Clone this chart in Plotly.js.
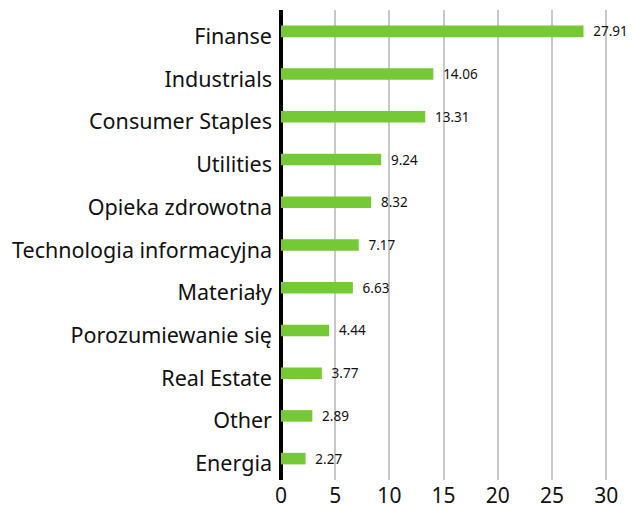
<!DOCTYPE html>
<html>
<head>
<meta charset="utf-8">
<script src="https://cdn.plot.ly/plotly-3.0.1.min.js"></script>
<style>html,body{margin:0;padding:0;background:#fff;}#chart{width:632px;height:508px;}</style>
</head>
<body>
<div id="chart"></div>
<script>
const categories = ["Finanse","Industrials","Consumer Staples","Utilities","Opieka zdrowotna","Technologia informacyjna","Materiały","Porozumiewanie się","Real Estate","Other","Energia"];
const values = [27.91,14.06,13.31,9.24,8.32,7.17,6.63,4.44,3.77,2.89,2.27];
const labels = values.map(v => '\u2002' + v.toFixed(2));

const trace = {
  type: 'bar',
  orientation: 'h',
  x: values,
  y: categories,
  text: labels,
  textposition: 'outside',
  constraintext: 'none',
  cliponaxis: false,
  textfont: {family: 'Noto Sans, sans-serif', size: 13.5, color: '#111'},
  marker: {color: '#74c934'},
  width: 0.27,
  hoverinfo: 'none'
};

const layout = {
  width: 632, height: 508,
  margin: {l: 281, r: 15, t: 10, b: 28},
  paper_bgcolor: '#fff', plot_bgcolor: '#fff',
  showlegend: false,
  font: {family: 'Noto Sans, sans-serif', color: '#111'},
  xaxis: {
    range: [0, 31],
    tickvals: [0,5,10,15,20,25,30],
    showgrid: true, gridcolor: '#c8c8c8', gridwidth: 2,
    zeroline: true, zerolinecolor: '#000', zerolinewidth: 4,
    showline: false, ticks: '',
    ticklabelstandoff: 1,
    tickfont: {size: 21, color: '#111'},
    fixedrange: true
  },
  yaxis: {
    autorange: 'reversed',
    showgrid: false, zeroline: false, showline: false,
    ticks: '', ticklen: 0,
    ticklabelstandoff: 8,
    ticklabelshift: -5,
    tickfont: {size: 21.5, color: '#111'},
    automargin: false
  }
};

Plotly.newPlot('chart', [trace], layout, {staticPlot: true, displayModeBar: false});
</script>
</body>
</html>
